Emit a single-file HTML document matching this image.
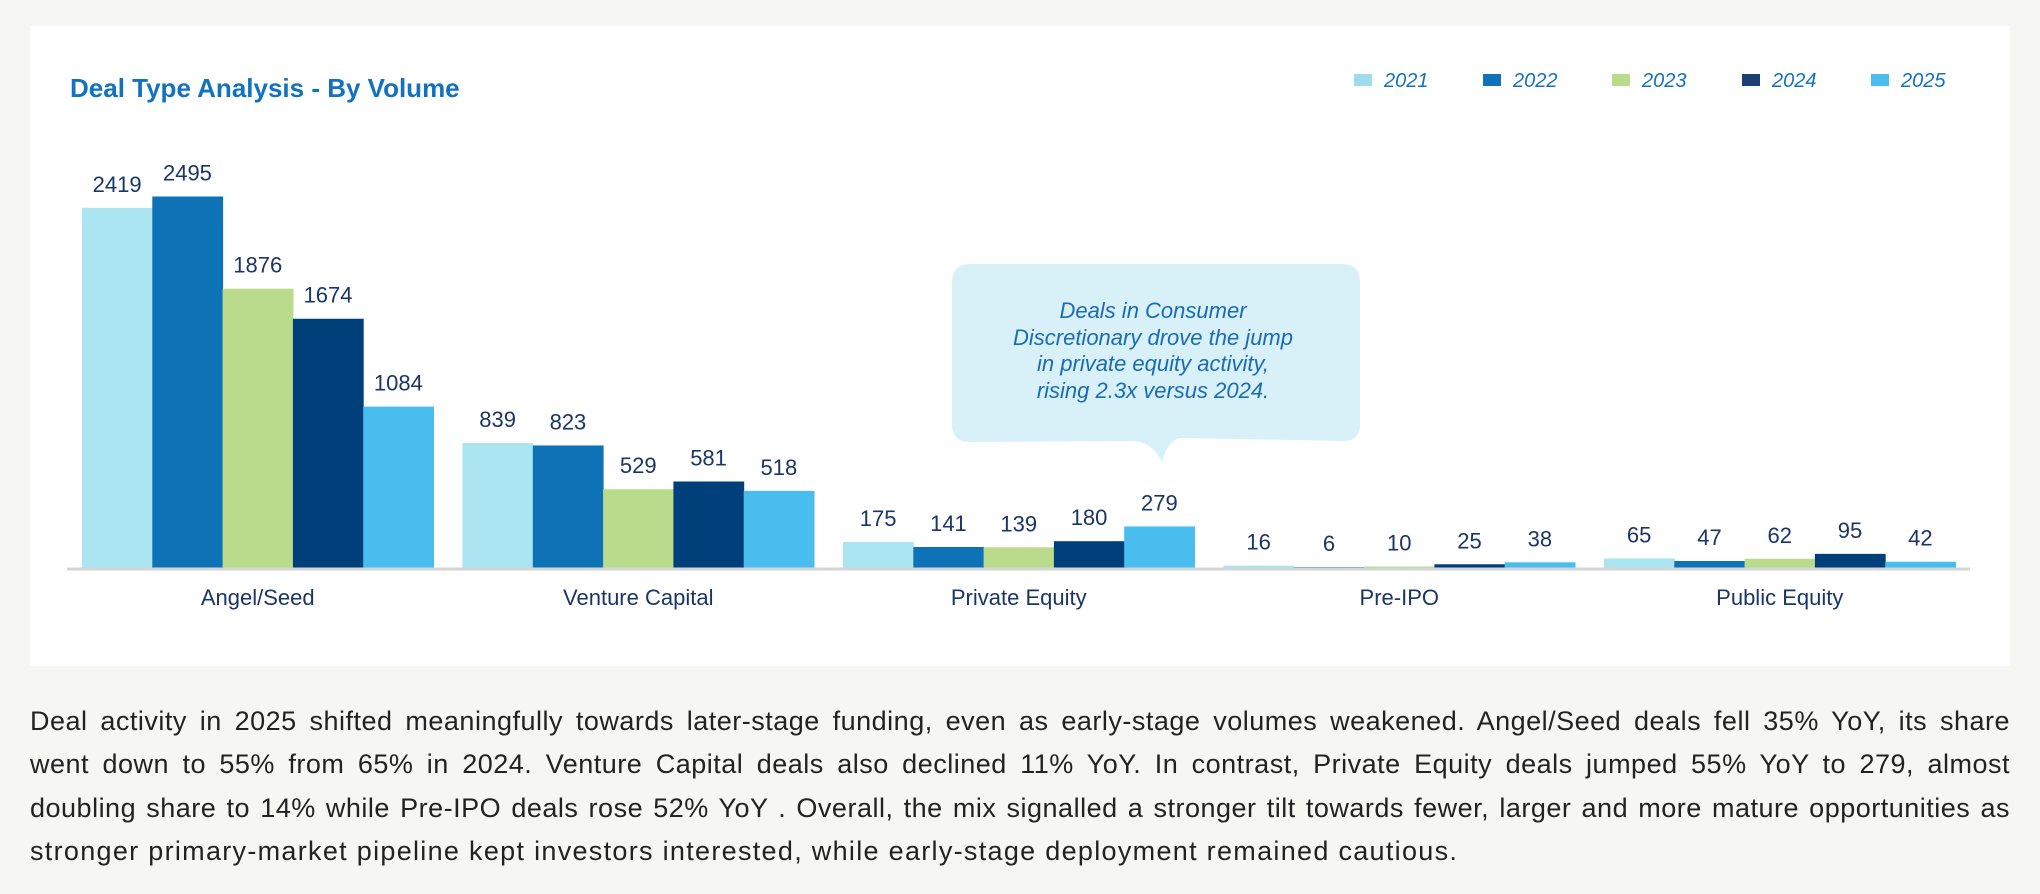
<!DOCTYPE html>
<html><head><meta charset="utf-8">
<style>
html,body{margin:0;padding:0;background:#f6f6f2;width:2040px;height:894px;overflow:hidden;font-family:"Liberation Sans",sans-serif;}
#panel{position:absolute;left:30px;top:26px;width:1980px;height:640px;background:#fff;}
#chart{position:absolute;left:0;top:0;}
#para{position:absolute;left:30px;top:700px;width:1980px;font-size:27px;color:#222;line-height:43.3px;letter-spacing:0.5px;}
#para div{text-align:justify;text-align-last:justify;white-space:nowrap;}
#para div.last{text-align-last:left;letter-spacing:1.3px;}
</style></head>
<body>
<div id="panel"></div>
<svg id="chart" width="2040" height="894"></svg>
<div id="para">
<div>Deal activity in 2025 shifted meaningfully towards later-stage funding, even as early-stage volumes weakened. Angel/Seed deals fell 35% YoY, its share</div>
<div>went down to 55% from 65% in 2024. Venture Capital deals also declined 11% YoY. In contrast, Private Equity deals jumped 55% YoY to 279, almost</div>
<div>doubling share to 14% while Pre-IPO deals rose 52% YoY . Overall, the mix signalled a stronger tilt towards fewer, larger and more mature opportunities as</div>
<div class="last">stronger primary-market pipeline kept investors interested, while early-stage deployment remained cautious.</div>
</div>
<script>
const categories = ["Angel/Seed","Venture Capital","Private Equity","Pre-IPO","Public Equity"];
const years = ["2021","2022","2023","2024","2025"];
const s2021 = [2419,839,175,16,65];
const s2022 = [2495,823,141,6,47];
const s2023 = [1876,529,139,10,62];
const s2024 = [1674,581,180,25,95];
const s2025 = [1084,518,279,38,42];
const series = [s2021,s2022,s2023,s2024,s2025];
const colors = ["#abe5f2","#0e72b7","#badb8c","#00407a","#48bdee"];
const legendColors = ["#9fdcf0","#0e72b7","#badb8c","#1d3f75","#48bdee"];

const NS="http://www.w3.org/2000/svg";
const svg=document.getElementById('chart');
function mk(tag,attrs,parent){const e=document.createElementNS(NS,tag);for(const k in attrs)e.setAttribute(k,attrs[k]);(parent||svg).appendChild(e);return e;}

const baseY=568, pxPerUnit=371.5/2495;
const yScale=v=>baseY-v*pxPerUnit;
const groupX0=82, groupPitch=380.5, barW=70.3;
const xScale=(ci,si)=>groupX0+ci*groupPitch+si*barW;

let t=mk('text',{x:70,y:97,'font-size':26,'font-weight':'bold',fill:'#1272c0'});
t.textContent="Deal Type Analysis - By Volume";



const legX=[1354,1483,1612,1742,1871];
years.forEach((y,i)=>{
  const g=mk('g',{});
  
  
  mk('rect',{x:legX[i],y:74,width:18,height:12,fill:legendColors[i]},g);
  const tx=mk('text',{x:legX[i]+30,y:87,'font-size':20,'font-style':'italic',fill:'#1272c0'},g);
  tx.textContent=y;
});

categories.forEach((c,ci)=>{
  series.forEach((s,si)=>{
    const v=s[ci];
    const x=xScale(ci,si), y=yScale(v);
    const r=mk('rect',{x:x,y:y,width:barW+0.5,height:baseY-y,fill:colors[si]});
    
    
    const lb=mk('text',{x:x+barW/2,y:y-16,'font-size':22,'text-anchor':'middle',fill:'#1a3566'});
    lb.textContent=v;
    
    
  });
  const cl=mk('text',{x:xScale(ci,2)+barW/2,y:605,'font-size':22,'text-anchor':'middle',fill:'#1a3566'});
  cl.textContent=c;
  
  
});
const axis=mk('line',{x1:67,y1:baseY+1,x2:1970,y2:baseY+1,stroke:'#d4d4d4','stroke-width':3});



const cg=mk('g',{});


mk('path',{d:'M970,264 H1342 Q1360,264 1360,282 V424 Q1360,442 1342,441 L1180,438 Q1168,440 1162,462 Q1154,444 1135,441 L970,442 Q952,442 952,424 V282 Q952,264 970,264 Z',fill:'#d8f1f8'},cg);
const lines=["Deals in Consumer","Discretionary drove the jump","in private equity activity,","rising 2.3x versus 2024."];
const ly=[318,345,371,398];
lines.forEach((l,i)=>{const tx=mk('text',{x:1153,y:ly[i],'font-size':22,'font-style':'italic','text-anchor':'middle',fill:'#1a6bb5'},cg);tx.textContent=l;});
</script>
</body></html>
